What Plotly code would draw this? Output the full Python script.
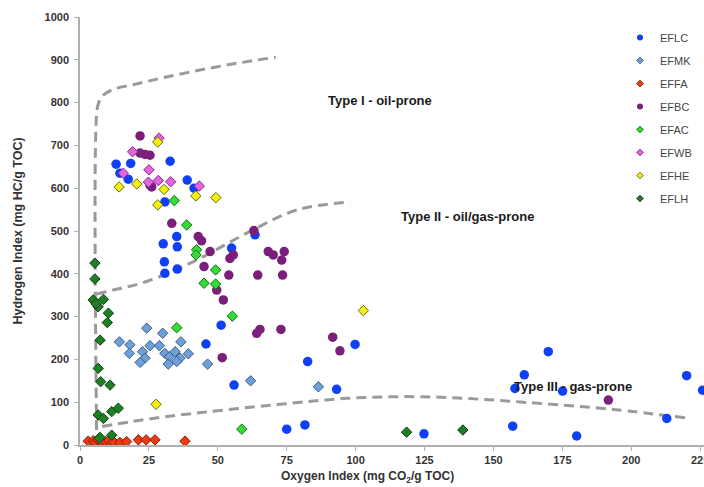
import plotly.graph_objects as go

# ---------------- data ----------------
series_names = ["EFLC", "EFMK", "EFFA", "EFBC", "EFAC", "EFWB", "EFHE", "EFLH"]

eflc_x = [32.7, 18.4, 13.1, 14.5, 17.5, 38.9, 41.4, 30.8, 35.1, 30.2, 35.3, 55.0, 63.5,
          30.6, 30.8, 35.3, 51.2, 45.7, 82.6, 99.8, 93.1, 169.9, 161.2, 157.8, 175.1,
          220.1, 225.9, 212.9, 75.0, 81.6, 124.8, 157.0, 180.2, 55.9]
eflc_y = [663, 658, 656, 635, 621, 619, 600, 568, 487, 470, 463, 460, 491,
          428, 401, 411, 280, 236, 195, 235, 130, 218, 164, 132, 126,
          162, 128, 62, 37, 47, 26, 44, 21, 140]

efmk_x = [24.2, 30.0, 14.3, 18.1, 36.6, 25.4, 28.8, 22.7, 17.9, 30.8, 34.5, 39.3,
          23.6, 32.4, 36.3, 21.8, 32.0, 35.1, 46.3, 61.9, 86.5]
efmk_y = [273, 261, 241, 234, 241, 232, 232, 218, 214, 214, 218, 213,
          203, 206, 203, 193, 189, 195, 189, 150, 136]

effa_x = [3.0, 4.8, 5.5, 6.6, 7.5, 9.1, 10.5, 12.1, 14.5, 16.9, 21.2, 24.0, 27.2, 38.1]
effa_y = [9, 10, 6, 12, 8, 9, 11, 8, 6, 8, 12, 12, 12, 9]

efbc_x = [21.8, 21.8, 23.6, 25.4, 25.4, 26.0, 33.3, 42.9, 44.1, 47.2, 55.6, 54.4,
          63.1, 68.3, 70.1, 74.1, 73.2, 45.0, 54.0, 64.5, 73.5, 49.6, 52.0, 65.3,
          64.1, 72.9, 51.6, 91.7, 94.3, 191.7]
efbc_y = [722, 682, 679, 677, 607, 603, 518, 487, 477, 452, 444, 436,
          501, 452, 444, 452, 432, 417, 397, 397, 397, 362, 339, 270,
          261, 270, 204, 252, 220, 105]

efac_x = [34.2, 38.7, 42.3, 42.1, 49.2, 45.0, 49.2, 55.3, 35.1, 58.7, 7.3]
efac_y = [571, 514, 456, 444, 409, 378, 376, 301, 274, 37, 18]

efwb_x = [28.7, 19.1, 25.0, 15.7, 24.8, 28.4, 32.9, 43.3]
efwb_y = [717, 685, 643, 635, 614, 618, 615, 605]

efhe_x = [28.2, 20.6, 14.2, 30.5, 42.0, 49.3, 28.2, 102.8, 27.6]
efhe_y = [708, 610, 603, 597, 582, 578, 561, 314, 95]

eflh_x = [5.4, 5.4, 4.8, 8.5, 6.6, 5.8, 10.3, 9.9, 7.3, 6.6, 7.5, 10.9, 6.6, 8.5,
          11.5, 13.9, 7.0, 11.5, 118.5, 138.9]
eflh_y = [425, 388, 339, 340, 323, 330, 308, 286, 245, 179, 148, 140, 70, 62,
          78, 86, 16, 23, 30, 35]

# kerogen-type boundary curves (dashed)
type1_x = [6.0, 6.0, 6.8, 8.6, 12.6, 20.0, 30.0, 43.5, 57.0, 71.0]
type1_y = [35, 770, 800, 818, 832, 843, 858, 876, 892, 906]
type2_x = [6.0, 12.0, 24.2, 42.3, 60.5, 78.6, 98.0]
type2_y = [353, 362, 382, 432, 495, 549, 568]
type3_x = [8.0, 18.0, 36.0, 72.6, 96.8, 121.0, 145.0, 169.0, 193.5, 221.3]
type3_y = [43, 54, 70, 95, 109, 113, 107, 96, 83, 62]

zone_labels = ["Type I - oil-prone", "Type II - oil/gas-prone", "Type III - gas-prone"]
zone_x = [109.0, 140.6, 178.7]
zone_y = [804, 533, 136]

x_ticks = [0, 25, 50, 75, 100, 125, 150, 175, 200, 225]
y_ticks = [0, 100, 200, 300, 400, 500, 600, 700, 800, 900, 1000]

# ---------------- styles ----------------
styles = {
    "EFLC": dict(symbol="circle", color="#1040f5", line="#1040f5", lw=0),
    "EFMK": dict(symbol="diamond", color="#6f9fd8", line="#3d5f85", lw=1),
    "EFFA": dict(symbol="diamond", color="#f03a10", line="#8a1a00", lw=1),
    "EFBC": dict(symbol="circle", color="#7a1f7a", line="#7a1f7a", lw=0),
    "EFAC": dict(symbol="diamond", color="#33dd33", line="#1a6a1a", lw=1),
    "EFWB": dict(symbol="diamond", color="#e264e0", line="#8a2a8a", lw=1),
    "EFHE": dict(symbol="diamond", color="#f5ef10", line="#6a6a10", lw=1),
    "EFLH": dict(symbol="diamond", color="#1f7f25", line="#0f3f12", lw=1),
}
data = {
    "EFLC": (eflc_x, eflc_y), "EFMK": (efmk_x, efmk_y), "EFFA": (effa_x, effa_y),
    "EFBC": (efbc_x, efbc_y), "EFAC": (efac_x, efac_y), "EFWB": (efwb_x, efwb_y),
    "EFHE": (efhe_x, efhe_y), "EFLH": (eflh_x, eflh_y),
}

fig = go.Figure()

for cx, cy in [(type1_x, type1_y), (type2_x, type2_y), (type3_x, type3_y)]:
    fig.add_trace(go.Scatter(x=cx, y=cy, mode="lines", showlegend=False, hoverinfo="skip",
                             line=dict(color="#9a9a9a", width=3, dash="10px,6px", shape="spline")))

for name in series_names:
    st = styles[name]
    xs, ys = data[name]
    size = 9.5 if st["symbol"] == "circle" else 8
    fig.add_trace(go.Scatter(x=xs, y=ys, mode="markers", name=name, showlegend=False,
                             legendgroup=name,
                             marker=dict(symbol=st["symbol"], size=size, color=st["color"],
                                         line=dict(color=st["line"], width=st["lw"]))))

# small legend markers
for name in series_names:
    st = styles[name]
    fig.add_trace(go.Scatter(x=[None], y=[None], mode="markers", name=name,
                             legendgroup=name, showlegend=True,
                             marker=dict(symbol=st["symbol"], size=6 if st["symbol"] == "circle" else 5,
                                         color=st["color"],
                                         line=dict(color=st["line"], width=st["lw"]))))

for t, tx, ty in zip(zone_labels, zone_x, zone_y):
    fig.add_annotation(x=tx, y=ty, text=t, showarrow=False, xref="x", yref="y",
                       font=dict(family="Liberation Sans", size=13, color="#1a1a1a", weight="bold"))

fig.add_annotation(x=(367 - 80) / 624, y=-0.075, xref="paper", yref="paper", yanchor="middle",
                   text="Oxygen Index (mg CO<sub>2</sub>/g TOC)", showarrow=False,
                   font=dict(family="Liberation Sans", size=12, color="#333333", weight="bold"))
fig.add_annotation(x=-0.1, y=0.5, xref="paper", yref="paper", textangle=-90,
                   text="Hydrogen Index (mg HC/g TOC)", showarrow=False, xanchor="center",
                   font=dict(family="Liberation Sans", size=12.5, color="#333333", weight="bold"))

axis_common = dict(showgrid=False, zeroline=False, showline=True, linecolor="#b0b0b0",
                   linewidth=1.5, ticks="outside", ticklen=4, tickcolor="#b0b0b0",
                   ticklabeloverflow="allow", automargin=False,
                   tickfont=dict(family="Liberation Sans", size=11, color="#333333", weight="bold"))

fig.update_layout(
    width=704, height=487,
    margin=dict(l=80, r=0, t=17, b=42, autoexpand=False),
    paper_bgcolor="white", plot_bgcolor="white",
    showlegend=True,
    legend=dict(x=(620 - 80) / 624, y=1 - (23 - 17) / 428, xanchor="left", yanchor="top",
                font=dict(family="Liberation Sans", size=11, color="#444444"),
                bgcolor="rgba(0,0,0,0)", tracegroupgap=4, traceorder="grouped"),
    xaxis=dict(range=[0, 226.4], tickvals=x_ticks, **axis_common),
    yaxis=dict(range=[0, 1000], tickvals=y_ticks, ticklabelstandoff=3, **axis_common),
)

fig.write_html("out.html")
